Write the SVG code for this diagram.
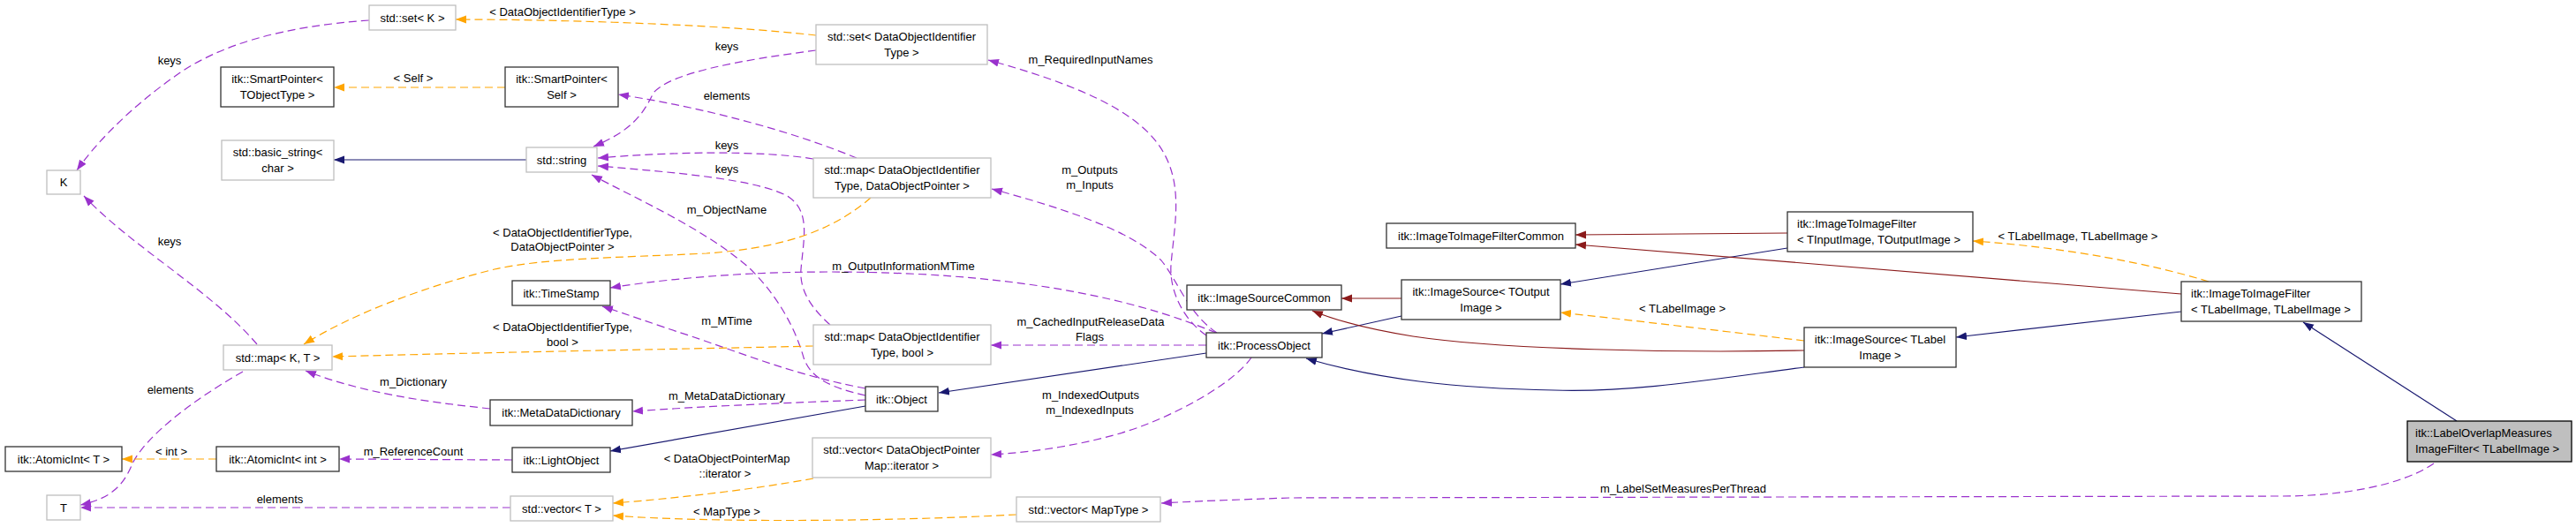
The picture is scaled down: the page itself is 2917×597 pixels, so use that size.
<svg xmlns="http://www.w3.org/2000/svg" width="2917" height="597" viewBox="0 0 2917 597">
<style>
text{font-family:"Liberation Sans",Arial,sans-serif;font-size:13px;fill:#000}
.c{text-anchor:middle}
.s{text-anchor:start}
.ng rect{fill:#fff;stroke:#bfbfbf;stroke-width:1.3}
.nb rect{fill:#fff;stroke:#333;stroke-width:1.3}
.nh rect{fill:#bfbfbf;stroke:#000;stroke-width:1.3}
.e path{fill:none;stroke-width:1.2}
.p{stroke:#9a32cd;stroke-dasharray:9,5;marker-end:url(#ap)}
.o{stroke:#ffa500;stroke-dasharray:9,5;marker-end:url(#ao)}
.n{stroke:#191970;marker-end:url(#an)}
.r{stroke:#8b1a1a;marker-end:url(#ar)}
</style>
<defs>
<marker id="ap" markerUnits="userSpaceOnUse" markerWidth="13" markerHeight="10" refX="12" refY="5" orient="auto"><path d="M0,0.5 L12,5 L0,9.5 z" fill="#9a32cd"/></marker>
<marker id="ao" markerUnits="userSpaceOnUse" markerWidth="13" markerHeight="10" refX="12" refY="5" orient="auto"><path d="M0,0.5 L12,5 L0,9.5 z" fill="#ffa500"/></marker>
<marker id="an" markerUnits="userSpaceOnUse" markerWidth="13" markerHeight="10" refX="12" refY="5" orient="auto"><path d="M0,0.5 L12,5 L0,9.5 z" fill="#191970"/></marker>
<marker id="ar" markerUnits="userSpaceOnUse" markerWidth="13" markerHeight="10" refX="12" refY="5" orient="auto"><path d="M0,0.5 L12,5 L0,9.5 z" fill="#8b1a1a"/></marker>
</defs>
<rect width="2917" height="597" fill="#fff"/>
<g id="edges" class="e">
<path class="p" d="M418,23 C320,30 250,50 200,85 C150,120 110,160 87,193"/>
<path class="p" d="M291,390 C240,330 150,280 95,222"/>
<path class="p" d="M275,421 C215,455 165,495 150,525 C140,550 125,565 91,572"/>
<path class="p" d="M578,575 L91,575"/>
<path class="p" d="M580,521 L384,520"/>
<path class="p" d="M555,463 C480,455 410,445 346,420"/>
<path class="p" d="M980,453 C900,456 800,460 716,466"/>
<path class="p" d="M980,440 C900,425 840,400 780,380 C740,367 710,356 682,347"/>
<path class="p" d="M980,448 C945,440 918,430 910,405 C900,370 880,335 850,305 C800,260 720,225 670,198"/>
<path class="p" d="M940,368 C920,350 905,330 907,305 C910,270 918,240 893,223 C860,203 760,195 677,188"/>
<path class="p" d="M921,180 C860,170 760,172 677,179"/>
<path class="p" d="M924,57 C840,68 760,82 740,105 C728,130 715,148 672,166"/>
<path class="p" d="M970,179 C900,150 800,122 700,107"/>
<path class="p" d="M1366,380 C1340,362 1324,330 1326,300 C1330,250 1345,195 1300,150 C1260,110 1180,85 1119,68"/>
<path class="p" d="M1378,377 C1345,355 1335,320 1315,295 C1280,260 1200,235 1123,214"/>
<path class="p" d="M1377,377 C1300,345 1200,320 1050,311 C900,303 780,312 691,326"/>
<path class="p" d="M1366,391 L1122,391"/>
<path class="p" d="M1417,405 C1400,430 1350,460 1300,480 C1250,500 1180,512 1122,515"/>
<path class="p" d="M2756,525 C2720,550 2650,562 2584,562 L1460,564 C1400,566 1350,568 1315,570"/>
<path class="o" d="M924,40 C820,28 640,22 516,22"/>
<path class="o" d="M572,99 L378,99"/>
<path class="o" d="M986,224 C950,255 900,280 800,287 C700,292 620,292 560,305 C480,325 400,355 344,390"/>
<path class="o" d="M921,392 C800,395 600,398 376,404"/>
<path class="o" d="M921,542 C850,555 760,565 694,570"/>
<path class="o" d="M1151,583 C1000,591 800,592 694,584"/>
<path class="o" d="M245,520 L138,520"/>
<path class="o" d="M2043,386 C1950,375 1850,363 1767,354"/>
<path class="o" d="M2501,319 C2440,300 2340,280 2234,273"/>
<path class="n" d="M596,181 L378,181"/>
<path class="n" d="M980,460 L691,511"/>
<path class="n" d="M1366,400 L1063,445"/>
<path class="n" d="M1587,358 L1497,378"/>
<path class="n" d="M2043,416 C1950,428 1850,445 1760,442 C1650,440 1560,430 1479,406"/>
<path class="n" d="M2024,281 L1767,322"/>
<path class="n" d="M2470,353 L2215,382"/>
<path class="n" d="M2782,477 L2608,365"/>
<path class="r" d="M1587,338 L1519,338"/>
<path class="r" d="M2043,397 C1900,400 1700,396 1600,381 C1550,373 1510,362 1486,352"/>
<path class="r" d="M2024,264 L1784,266"/>
<path class="r" d="M2470,333 L1784,277"/>
</g>
<g id="edge-labels" class="c">
<text x="637" y="18">&lt; DataObjectIdentifierType &gt;</text>
<text x="192" y="73">keys</text>
<text x="468" y="93">&lt; Self &gt;</text>
<text x="192" y="278">keys</text>
<text x="637" y="268">&lt; DataObjectIdentifierType,</text>
<text x="637" y="284">DataObjectPointer &gt;</text>
<text x="637" y="375">&lt; DataObjectIdentifierType,</text>
<text x="637" y="392">bool &gt;</text>
<text x="468" y="437">m_Dictionary</text>
<text x="193" y="446">elements</text>
<text x="194" y="516">&lt; int &gt;</text>
<text x="468" y="516">m_ReferenceCount</text>
<text x="317" y="570">elements</text>
<text x="823" y="57">keys</text>
<text x="1235" y="72">m_RequiredInputNames</text>
<text x="823" y="113">elements</text>
<text x="823" y="169">keys</text>
<text x="823" y="196">keys</text>
<text x="823" y="242">m_ObjectName</text>
<text x="1234" y="197">m_Outputs</text>
<text x="1234" y="214">m_Inputs</text>
<text x="1023" y="306">m_OutputInformationMTime</text>
<text x="823" y="368">m_MTime</text>
<text x="1235" y="369">m_CachedInputReleaseData</text>
<text x="1234" y="386">Flags</text>
<text x="823" y="453">m_MetaDataDictionary</text>
<text x="1235" y="452">m_IndexedOutputs</text>
<text x="1234" y="469">m_IndexedInputs</text>
<text x="823" y="524">&lt; DataObjectPointerMap</text>
<text x="821" y="541">::iterator &gt;</text>
<text x="823" y="584">&lt; MapType &gt;</text>
<text x="1905" y="354">&lt; TLabelImage &gt;</text>
<text x="2353" y="272">&lt; TLabelImage, TLabelImage &gt;</text>
<text x="1906" y="558">m_LabelSetMeasuresPerThread</text>
</g>
<g id="n-set-K" class="ng"><rect x="418" y="6" width="98" height="28"/><text class="c" x="467" y="24.5">std::set&lt; K &gt;</text></g>
<g id="n-sp-tobj" class="nb"><rect x="250" y="76" width="128" height="45"/><text class="c" x="314" y="93.5">itk::SmartPointer&lt;</text><text class="c" x="314" y="111.5">TObjectType &gt;</text></g>
<g id="n-sp-self" class="nb"><rect x="572" y="76" width="128" height="45"/><text class="c" x="636" y="93.5">itk::SmartPointer&lt;</text><text class="c" x="636" y="111.5">Self &gt;</text></g>
<g id="n-basic-string" class="ng"><rect x="251" y="159" width="127" height="45"/><text class="c" x="314.5" y="176.5">std::basic_string&lt;</text><text class="c" x="314.5" y="194.5">char &gt;</text></g>
<g id="n-string" class="ng"><rect x="596" y="167" width="80" height="28"/><text class="c" x="636" y="185.5">std::string</text></g>
<g id="n-K" class="ng"><rect x="53" y="193" width="38" height="27"/><text class="c" x="72" y="211">K</text></g>
<g id="n-set-doi" class="ng"><rect x="924" y="28" width="194" height="45"/><text class="c" x="1021" y="45.5">std::set&lt; DataObjectIdentifier</text><text class="c" x="1021" y="63.5">Type &gt;</text></g>
<g id="n-map-doi-dop" class="ng"><rect x="921" y="179" width="201" height="45"/><text class="c" x="1021.5" y="196.5">std::map&lt; DataObjectIdentifier</text><text class="c" x="1021.5" y="214.5">Type, DataObjectPointer &gt;</text></g>
<g id="n-timestamp" class="nb"><rect x="580" y="318" width="111" height="28"/><text class="c" x="635.5" y="336.5">itk::TimeStamp</text></g>
<g id="n-map-KT" class="ng"><rect x="253" y="391" width="123" height="28"/><text class="c" x="314.5" y="409.5">std::map&lt; K, T &gt;</text></g>
<g id="n-map-doi-bool" class="ng"><rect x="921" y="368" width="201" height="45"/><text class="c" x="1021.5" y="385.5">std::map&lt; DataObjectIdentifier</text><text class="c" x="1021.5" y="403.5">Type, bool &gt;</text></g>
<g id="n-mdd" class="nb"><rect x="555" y="453" width="161" height="29"/><text class="c" x="635.5" y="472">itk::MetaDataDictionary</text></g>
<g id="n-object" class="nb"><rect x="980" y="438" width="82" height="28"/><text class="c" x="1021" y="456.5">itk::Object</text></g>
<g id="n-atomic-T" class="nb"><rect x="6" y="506" width="132" height="28"/><text class="c" x="72" y="524.5">itk::AtomicInt&lt; T &gt;</text></g>
<g id="n-atomic-int" class="nb"><rect x="245" y="506" width="139" height="28"/><text class="c" x="314.5" y="524.5">itk::AtomicInt&lt; int &gt;</text></g>
<g id="n-lightobject" class="nb"><rect x="580" y="507" width="111" height="28"/><text class="c" x="635.5" y="525.5">itk::LightObject</text></g>
<g id="n-T" class="ng"><rect x="53" y="561" width="38" height="28"/><text class="c" x="72" y="579.5">T</text></g>
<g id="n-vector-T" class="ng"><rect x="578" y="562" width="116" height="28"/><text class="c" x="636" y="580.5">std::vector&lt; T &gt;</text></g>
<g id="n-vector-dop" class="ng"><rect x="920" y="496" width="202" height="45"/><text class="c" x="1021" y="513.5">std::vector&lt; DataObjectPointer</text><text class="c" x="1021" y="531.5">Map::iterator &gt;</text></g>
<g id="n-vector-maptype" class="ng"><rect x="1151" y="563" width="163" height="28"/><text class="c" x="1232.5" y="581.5">std::vector&lt; MapType &gt;</text></g>
<g id="n-isc" class="nb"><rect x="1344" y="323" width="175" height="28"/><text class="c" x="1431.5" y="341.5">itk::ImageSourceCommon</text></g>
<g id="n-processobject" class="nb"><rect x="1366" y="377" width="131" height="28"/><text class="c" x="1431.5" y="395.5">itk::ProcessObject</text></g>
<g id="n-itifc" class="nb"><rect x="1570" y="253" width="214" height="28"/><text class="c" x="1677" y="271.5">itk::ImageToImageFilterCommon</text></g>
<g id="n-is-toutput" class="nb"><rect x="1587" y="317" width="180" height="45"/><text class="c" x="1677" y="334.5">itk::ImageSource&lt; TOutput</text><text class="c" x="1677" y="352.5">Image &gt;</text></g>
<g id="n-itif-tin" class="nb"><rect x="2024" y="240" width="210" height="45"/><text class="s" x="2035" y="257.5">itk::ImageToImageFilter</text><text class="s" x="2035" y="275.5">&lt; TInputImage, TOutputImage &gt;</text></g>
<g id="n-is-tlabel" class="nb"><rect x="2043" y="371" width="172" height="45"/><text class="c" x="2129" y="388.5">itk::ImageSource&lt; TLabel</text><text class="c" x="2129" y="406.5">Image &gt;</text></g>
<g id="n-itif-tlabel" class="nb"><rect x="2470" y="319" width="204" height="45"/><text class="s" x="2481" y="336.5">itk::ImageToImageFilter</text><text class="s" x="2481" y="354.5">&lt; TLabelImage, TLabelImage &gt;</text></g>
<g id="n-labeloverlap" class="nh"><rect x="2726" y="477" width="186" height="46"/><text class="s" x="2735" y="495">itk::LabelOverlapMeasures</text><text class="s" x="2735" y="513">ImageFilter&lt; TLabelImage &gt;</text></g>
</svg>
